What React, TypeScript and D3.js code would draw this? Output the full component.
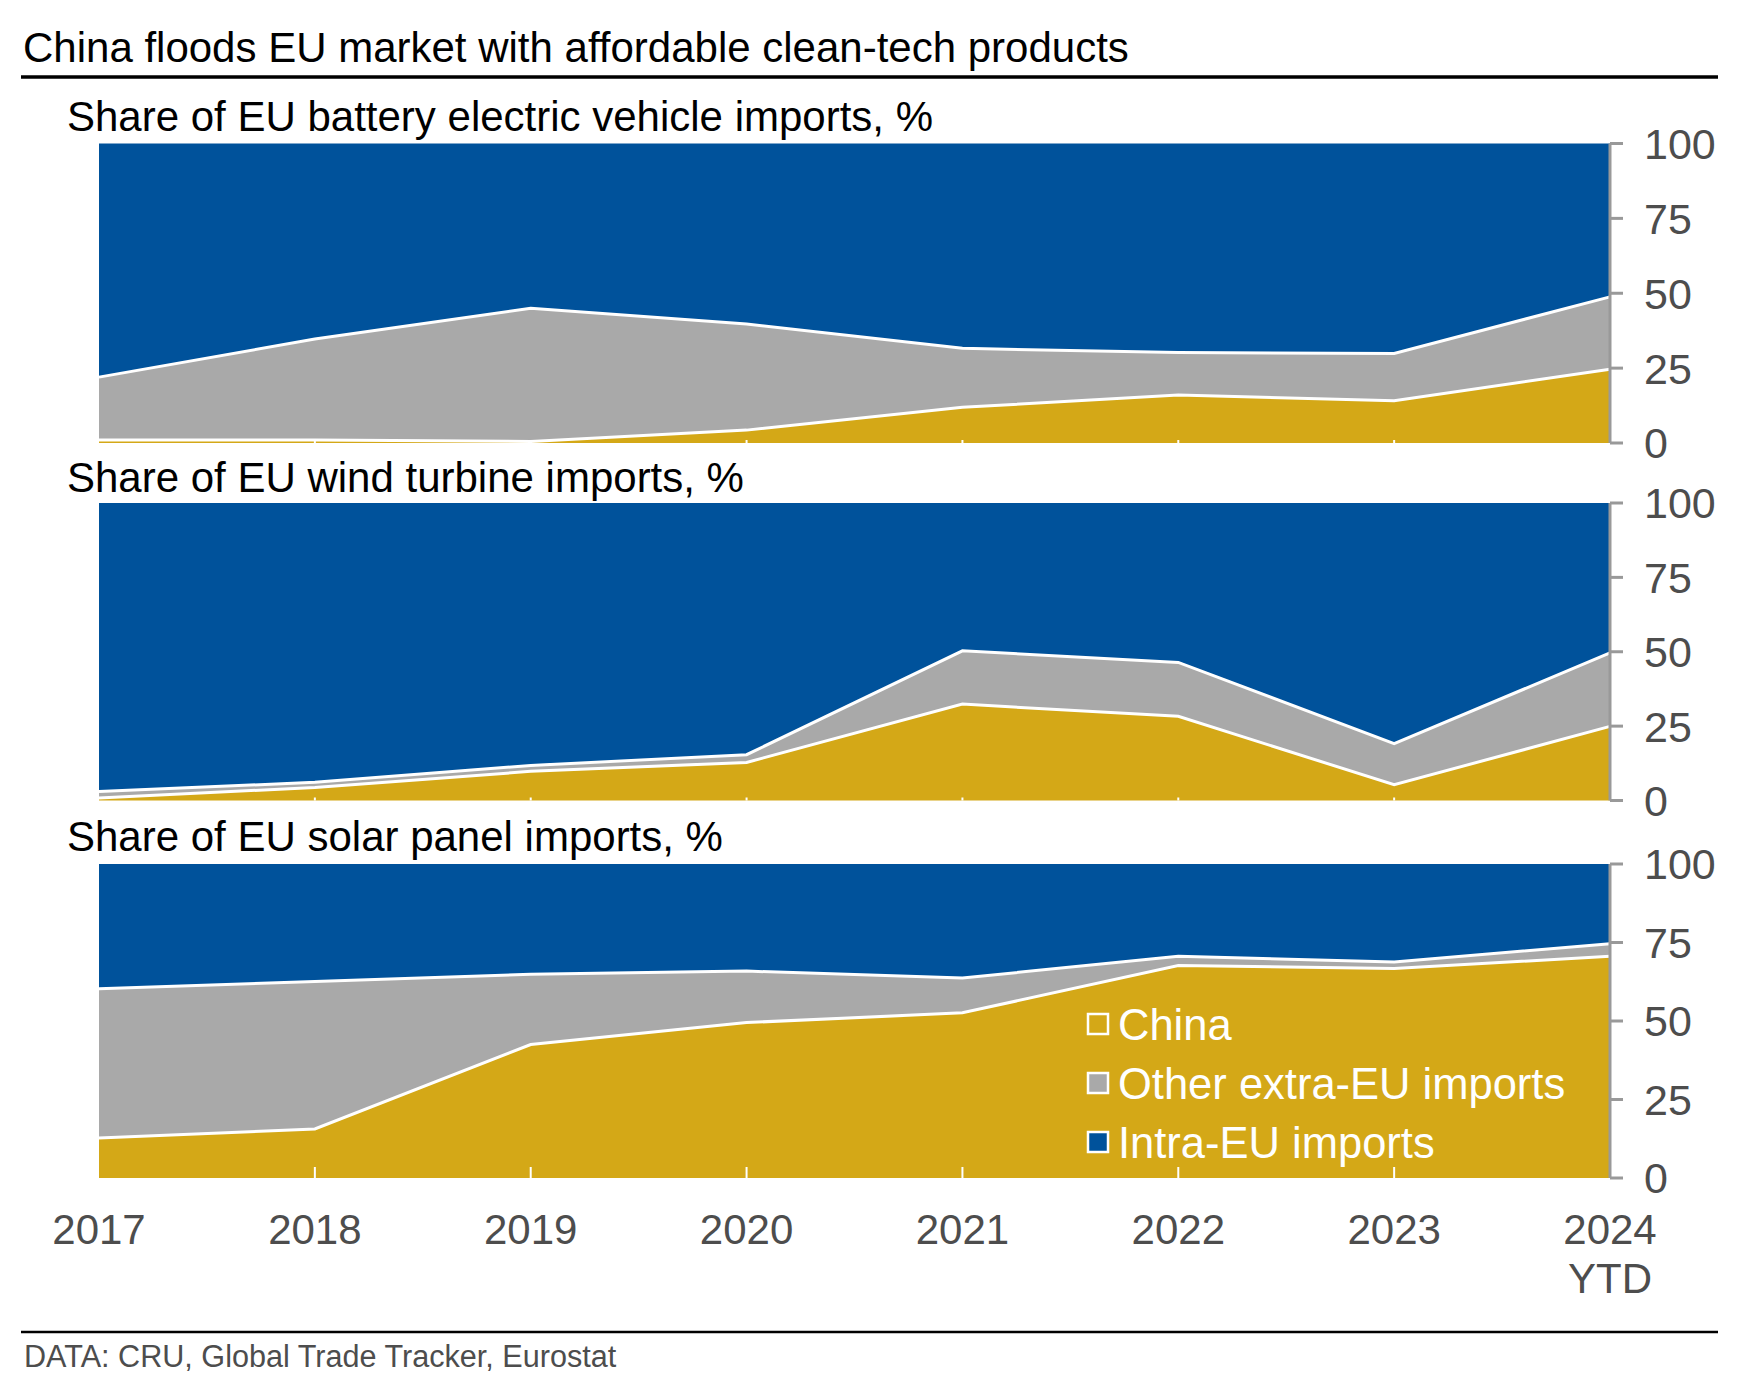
import React, { useEffect } from 'react'
import * as d3 from 'd3'

// ---- data ----
const years = [2017, 2018, 2019, 2020, 2021, 2022, 2023, 2024]
const yearLabels = ['2017', '2018', '2019', '2020', '2021', '2022', '2023', '2024']
const yTicks = [0, 25, 50, 75, 100]

const bevChina = [1, 1, 0.5, 4.3, 11.9, 16.0, 14.1, 24.6]
const bevOther = [21.0, 33.7, 44.5, 35.4, 19.7, 14.2, 15.8, 24.2]
const bevIntra = [78.0, 65.3, 55.0, 60.3, 68.4, 69.8, 70.1, 51.2]

const windChina = [0.8, 4.4, 9.8, 12.8, 32.4, 28.3, 5.3, 24.9]
const windOther = [2.2, 1.7, 2.0, 2.6, 17.9, 18.1, 13.8, 24.7]
const windIntra = [97.0, 93.9, 88.2, 84.6, 49.7, 53.6, 80.9, 50.4]

const solarChina = [12.7, 15.6, 42.5, 49.5, 52.6, 67.7, 66.7, 70.6]
const solarOther = [47.6, 47.0, 22.4, 16.4, 11.1, 2.9, 2.1, 4.0]
const solarIntra = [39.7, 37.4, 35.1, 34.1, 36.3, 29.4, 31.2, 25.4]

const seriesKeys = ['china', 'other', 'intra']
const legendLabels = ['China', 'Other extra-EU imports', 'Intra-EU imports']

const COLORS = { china: '#D4A817', other: '#A9A9A9', intra: '#00529B' }
const FONT = '"Liberation Sans", Arial, Helvetica, sans-serif'

const W = 1754
const H = 1380
const LEFT = 99
const RIGHT = 1610

const panels = [
  { title: 'Share of EU battery electric vehicle imports, %', china: bevChina, other: bevOther, intra: bevIntra, top: 143.5, bottom: 443, titleY: 131, tick: 3 },
  { title: 'Share of EU wind turbine imports, %', china: windChina, other: windOther, intra: windIntra, top: 503, bottom: 800.5, titleY: 492, tick: 3 },
  { title: 'Share of EU solar panel imports, %', china: solarChina, other: solarOther, intra: solarIntra, top: 864, bottom: 1178, titleY: 851, tick: 11 },
]

const x = d3.scaleLinear().domain([2017, 2024]).range([LEFT, RIGHT])

const Panel = ({ p }) => {
  const y = d3.scaleLinear().domain([0, 100]).range([p.bottom, p.top])
  const rows = years.map((yr, i) => ({ year: yr, china: p.china[i], other: p.other[i], intra: p.intra[i] }))
  const stacked = d3.stack().keys(seriesKeys)(rows)
  const area = d3
    .area()
    .x((d) => x(d.data.year))
    .y0((d) => y(d[0]))
    .y1((d) => y(Math.min(d[1], 100)))
  const line = d3
    .line()
    .x((d) => x(d.data.year))
    .y((d) => y(d[1]))

  return (
    <g>
      <text x={67} y={p.titleY} fontSize={42} fill="#000">
        {p.title}
      </text>
      {stacked.map((s) => (
        <path key={s.key} d={area(s)} fill={COLORS[s.key]} />
      ))}
      {stacked.slice(0, 2).map((s) => (
        <path key={'l' + s.key} d={line(s)} fill="none" stroke="#fff" strokeWidth={3} />
      ))}
      {years.slice(1, -1).map((yr) => (
        <line key={yr} x1={x(yr)} x2={x(yr)} y1={p.bottom} y2={p.bottom - p.tick} stroke="#fff" strokeWidth={2} />
      ))}
      <line x1={RIGHT} x2={RIGHT} y1={y(100)} y2={y(0)} stroke="#999" strokeWidth={3} />
      {yTicks.map((t) => (
        <g key={t}>
          <line x1={RIGHT} x2={RIGHT + 13} y1={y(t)} y2={y(t)} stroke="#999" strokeWidth={3} />
          <text x={1644} y={y(t)} dy="0.36em" fontSize={43} fill="#4D4D4D">
            {t}
          </text>
        </g>
      ))}
    </g>
  )
}

const App = () => {
  useEffect(() => {
    document.body.style.margin = '0'
  }, [])

  const legendY = d3.scalePoint().domain(legendLabels).range([1024, 1142])

  return (
    <svg width={W} height={H} style={{ display: 'block', fontFamily: FONT, background: '#fff' }}>
      <text x={23} y={62} fontSize={42} fill="#000">
        China floods EU market with affordable clean-tech products
      </text>
      <line x1={21} x2={1718} y1={77} y2={77} stroke="#000" strokeWidth={3.5} />

      {panels.map((p) => (
        <Panel key={p.title} p={p} />
      ))}

      {/* legend sits inside the solar panel */}
      {legendLabels.map((l, i) => (
        <g key={l} transform={`translate(1087,${legendY(l)})`}>
          <rect
            x={1}
            y={-10}
            width={20}
            height={20}
            fill={i === 0 ? 'none' : COLORS[seriesKeys[i]]}
            stroke="#fff"
            strokeWidth={2.5}
          />
          <text x={31} y={0} dy="0.36em" fontSize={43.5} fill="#fff">
            {l}
          </text>
        </g>
      ))}

      {yearLabels.map((l, i) => (
        <text key={l} x={x(years[i])} y={1244} textAnchor="middle" fontSize={42} fill="#4D4D4D">
          {l}
        </text>
      ))}
      <text x={x(2024)} y={1293} textAnchor="middle" fontSize={42} fill="#4D4D4D">
        YTD
      </text>

      <line x1={21} x2={1718} y1={1332} y2={1332} stroke="#000" strokeWidth={2.5} />
      <text x={24} y={1367} fontSize={30.6} fill="#4D4D4D">
        DATA: CRU, Global Trade Tracker, Eurostat
      </text>
    </svg>
  )
}

export default App
